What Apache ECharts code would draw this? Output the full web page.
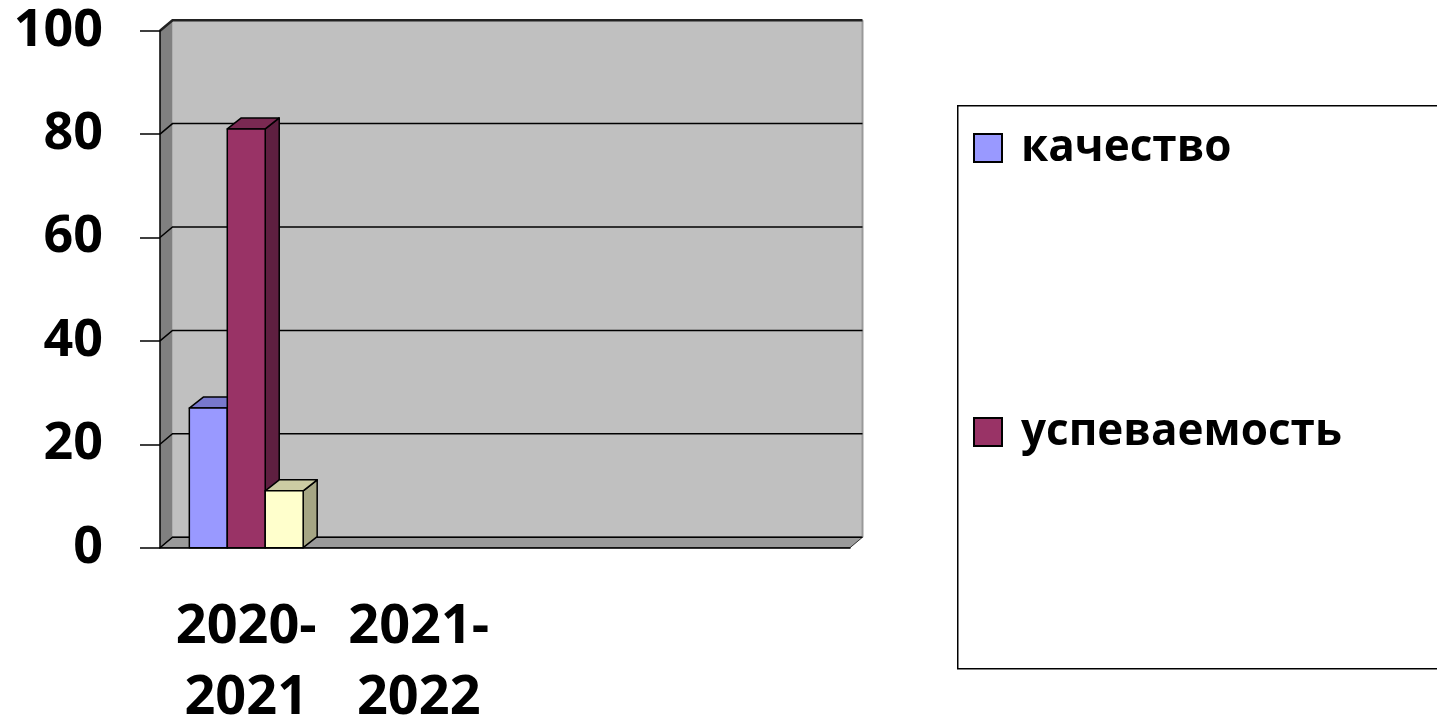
<!DOCTYPE html>
<html><head><meta charset="utf-8">
<script src="https://cdn.jsdelivr.net/npm/echarts@6/dist/echarts.min.js"></script>
<style>html,body{margin:0;padding:0;background:#fff}#c{width:1437px;height:723px}</style>
</head><body><div id="c"></div>
<script>
// ---- data ----
const categories = ['2020-\n2021', '2021-\n2022', '', ''];
const seriesNames = ['качество', 'успеваемость', 'Ряд 3'];
const kachestvo = [27, null, null, null];
const uspevaemost = [81, null, null, null];
const series3 = [11, null, null, null];
const yTicks = [0, 20, 40, 60, 80, 100];
const legendNames = ['качество', 'успеваемость'];

// ---- styles ----
const FONT = '"Open Sans", "Noto Sans", sans-serif';
const palette = [
  { front: '#9999FF', top: '#7878CC', side: '#5C5C99' },
  { front: '#993366', top: '#7A2952', side: '#5E1F40' },
  { front: '#FFFFCC', top: '#CCCCA3', side: '#A6A684' }
];
const DX = 14, DY = 11;      // bar depth
const WDX = 12.5, WDY = 10.5; // wall depth

function barRenderer(si) {
  return function (params, api) {
    const cat = api.value(0), val = api.value(1);
    if (val == null || isNaN(val)) return;
    const base = api.coord([cat, 0]);
    const tp = api.coord([cat, val]);
    const band = api.size([1, 0])[0];
    const w = band * 0.22;
    const x = base[0] - 1.5 * w + si * w;
    const yT = tp[1], yB = base[1];
    const c = palette[si];
    const st = { stroke: '#000', lineWidth: 1.5, lineJoin: 'round' };
    return {
      type: 'group',
      children: [
        { type: 'polygon', shape: { points: [[x + w, yT], [x + w + DX, yT - DY], [x + w + DX, yB - DY], [x + w, yB]] },
          style: Object.assign({ fill: c.side }, st) },
        { type: 'polygon', shape: { points: [[x, yT], [x + DX, yT - DY], [x + w + DX, yT - DY], [x + w, yT]] },
          style: Object.assign({ fill: c.top }, st) },
        { type: 'rect', shape: { x: x, y: yT, width: w, height: yB - yT },
          style: Object.assign({ fill: c.front }, st) }
      ]
    };
  };
}

function wallRenderer(params, api) {
  const cs = params.coordSys;
  const x0 = cs.x, x1 = cs.x + cs.width;
  const yt = api.coord([0, yTicks[yTicks.length - 1]])[1];
  const yb = api.coord([0, yTicks[0]])[1];
  const children = [];
  children.push({ type: 'rect', shape: { x: x0 + WDX, y: yt - WDY, width: x1 - x0, height: yb - yt },
    style: { fill: '#C0C0C0', stroke: null } });
  children.push({ type: 'polygon', shape: { points: [[x0, yb], [x0, yt], [x0 + WDX, yt - WDY], [x0 + WDX, yb - WDY]] },
    style: { fill: '#808080', stroke: null } });
  children.push({ type: 'polygon', shape: { points: [[x0, yb], [x0 + WDX, yb - WDY], [x1 + WDX, yb - WDY], [x1, yb]] },
    style: { fill: '#9A9A9A', stroke: '#333', lineWidth: 1 } });
  children.push({ type: 'line', shape: { x1: x1 + WDX, y1: yt - WDY, x2: x1 + WDX, y2: yb - WDY },
    style: { stroke: '#999', lineWidth: 2 } });
  yTicks.forEach(function (v, i) {
    const y = api.coord([0, v])[1];
    children.push({ type: 'polyline', shape: { points: [[x0, y], [x0 + WDX, y - WDY], [x1 + WDX, y - WDY]] },
      style: { stroke: i === yTicks.length - 1 ? '#222' : '#000', lineWidth: i === yTicks.length - 1 ? 2.5 : 1.5, fill: null } });
  });
  return { type: 'group', children: children };
}

function toData(arr) { return arr.map(function (v, i) { return [i, v]; }); }

const chart = echarts.init(document.getElementById('c'));
chart.setOption({
  animation: false,
  backgroundColor: '#fff',
  grid: { left: 160, right: 587, top: 30.7, bottom: 175.3, containLabel: false, outerBoundsMode: 'none' },
  graphic: [{
    type: 'rect', z: 0, left: 957, top: 105,
    shape: { width: 600, height: 563 },
    style: { fill: '#fff', stroke: '#000', lineWidth: 1.5 }
  }],
  legend: {
    orient: 'vertical', left: 968, top: 118, itemGap: 234,
    itemWidth: 28, itemHeight: 28, icon: 'rect',
    data: legendNames,
    itemStyle: { borderColor: '#000', borderWidth: 2 },
    textStyle: { fontFamily: FONT, fontWeight: 'bold', fontSize: 44, color: '#000', lineHeight: 50, padding: [0, 0, 0, 14] }
  },
  xAxis: {
    type: 'category', data: categories, z: 10,
    axisLine: { lineStyle: { color: '#000', width: 1.5 } },
    axisTick: { length: 20, lineStyle: { color: '#000', width: 1.5 }, interval: 0 },
    axisLabel: { interval: 0, fontFamily: FONT, fontWeight: 'bold', fontSize: 54, lineHeight: 71, color: '#000', margin: 44 }
  },
  yAxis: {
    type: 'value', min: 0, max: 100, interval: 20, z: 10,
    splitLine: { show: false },
    axisLine: { show: true, lineStyle: { color: '#000', width: 1.5 } },
    axisTick: { show: true, length: 20, lineStyle: { color: '#000', width: 1.5 } },
    axisLabel: { fontFamily: FONT, fontWeight: 'bold', fontSize: 52, color: '#000', margin: 57, padding: [8, 0, 0, 0] }
  },
  series: [
    { type: 'custom', name: '_walls', renderItem: wallRenderer, data: [[0, 0]], encode: { x: 0, y: 1 }, silent: true, z: 1 },
    { type: 'custom', name: seriesNames[0], renderItem: barRenderer(0), data: toData(kachestvo), encode: { x: 0, y: 1 }, itemStyle: { color: palette[0].front }, z: 2 },
    { type: 'custom', name: seriesNames[1], renderItem: barRenderer(1), data: toData(uspevaemost), encode: { x: 0, y: 1 }, itemStyle: { color: palette[1].front }, z: 3 },
    { type: 'custom', name: seriesNames[2], renderItem: barRenderer(2), data: toData(series3), encode: { x: 0, y: 1 }, itemStyle: { color: palette[2].front }, z: 4 }
  ]
});
</script></body></html>
